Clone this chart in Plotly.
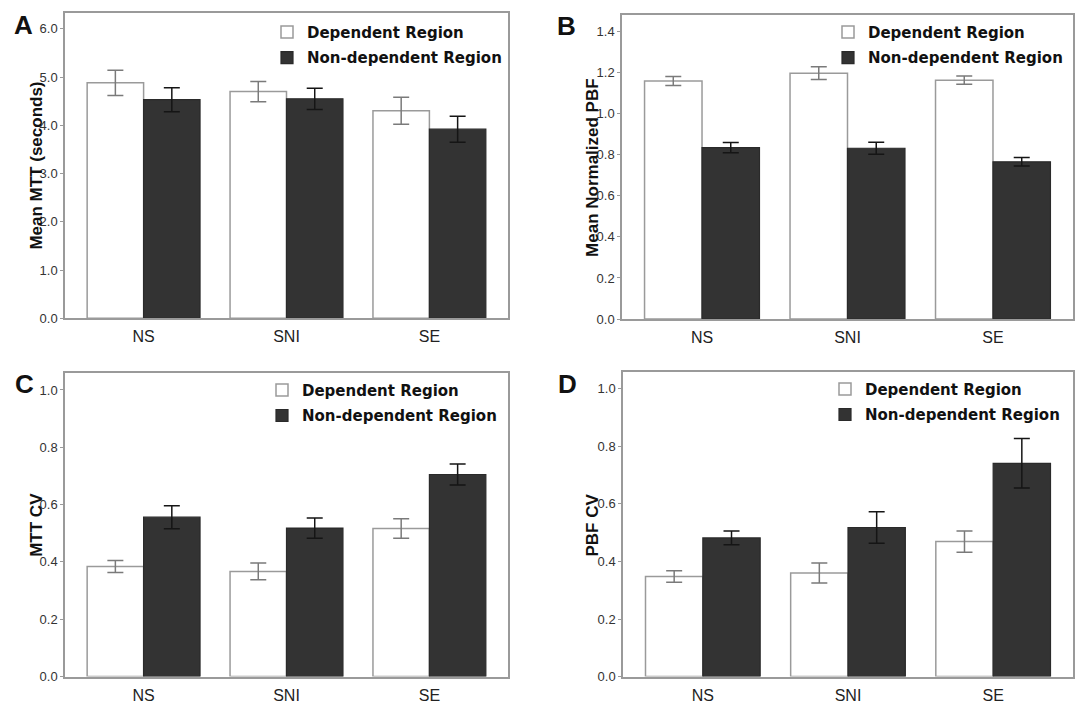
import plotly.graph_objects as go

# ---- data -------------------------------------------------------------
categories = ["NS", "SNI", "SE"]

mtt_dep = [4.88, 4.70, 4.30]
mtt_dep_err = [0.26, 0.21, 0.28]
mtt_non = [4.53, 4.55, 3.92]
mtt_non_err = [0.25, 0.22, 0.27]

pbf_dep = [1.158, 1.196, 1.162]
pbf_dep_err = [0.022, 0.031, 0.020]
pbf_non = [0.834, 0.831, 0.765]
pbf_non_err = [0.025, 0.029, 0.021]

mttcv_dep = [0.384, 0.367, 0.517]
mttcv_dep_err = [0.021, 0.029, 0.034]
mttcv_non = [0.556, 0.518, 0.705]
mttcv_non_err = [0.040, 0.035, 0.037]

pbfcv_dep = [0.348, 0.360, 0.469]
pbfcv_dep_err = [0.020, 0.035, 0.037]
pbfcv_non = [0.482, 0.518, 0.741]
pbfcv_non_err = [0.024, 0.055, 0.086]

series_names = ["Dependent Region", "Non-dependent Region"]

# ---- layout helpers ---------------------------------------------------
W, H = 1075, 708


def fx(p):
    return p / W


def fy(p):
    return 1 - p / H


panels = [
    dict(letter="A", ax="", dep=mtt_dep, dep_e=mtt_dep_err, non=mtt_non, non_e=mtt_non_err,
         xdom=(65, 508), ydom=(322, 13), yrange=6.33, dtick=1.0,
         title="Mean MTT (seconds)", title_x=37, letter_xy=(23, 25),
         legend="legend", leg_xy=(267, 16)),
    dict(letter="B", ax="2", dep=pbf_dep, dep_e=pbf_dep_err, non=pbf_non, non_e=pbf_non_err,
         xdom=(622, 1073), ydom=(322.7, 15), yrange=1.48, dtick=0.2,
         title="Mean Normalized PBF", title_x=593, letter_xy=(566, 26),
         legend="legend2", leg_xy=(828, 16)),
    dict(letter="C", ax="3", dep=mttcv_dep, dep_e=mttcv_dep_err, non=mttcv_non, non_e=mttcv_non_err,
         xdom=(65, 508), ydom=(684.3, 377.3), yrange=1.059, dtick=0.2,
         title="MTT CV", title_x=37, letter_xy=(24, 388),
         legend="legend3", leg_xy=(262, 378)),
    dict(letter="D", ax="4", dep=pbfcv_dep, dep_e=pbfcv_dep_err, non=pbfcv_non, non_e=pbfcv_non_err,
         xdom=(623, 1073), ydom=(684.3, 376.7), yrange=1.057, dtick=0.2,
         title="PBF CV", title_x=593, letter_xy=(567, 388),
         legend="legend4", leg_xy=(825, 377)),
]

fig = go.Figure()
layout = dict(
    width=W, height=H,
    margin=dict(l=0, r=0, t=0, b=0),
    paper_bgcolor="white", plot_bgcolor="white",
    barmode="group", bargap=0.21, bargroupgap=0,
    showlegend=True,
    font=dict(family="Liberation Sans, Arial, sans-serif", color="#222"),
)
annotations = []

for p in panels:
    xa, ya = "x" + p["ax"], "y" + p["ax"]
    fig.add_trace(go.Bar(
        x=categories, y=p["dep"], name=series_names[0],
        xaxis=xa, yaxis=ya, legend=p["legend"], legendgroup=p["letter"] + "dep",
        marker=dict(color="white", line=dict(color="#9a9a9a", width=1.5)),
        error_y=dict(type="data", array=p["dep_e"], color="#7a7a7a", thickness=1.5, width=8),
    ))
    fig.add_trace(go.Bar(
        x=categories, y=p["non"], name=series_names[1],
        xaxis=xa, yaxis=ya, legend=p["legend"], legendgroup=p["letter"] + "non",
        marker=dict(color="#333333", line=dict(color="#2a2a2a", width=1.2)),
        error_y=dict(type="data", array=p["non_e"], color="#151515", thickness=1.5, width=8),
    ))

    xkey = "xaxis" + p["ax"]
    ykey = "yaxis" + p["ax"]
    layout[xkey] = dict(
        domain=[fx(p["xdom"][0]), fx(p["xdom"][1])],
        anchor=ya, range=[-0.55, 2.55], fixedrange=True,
        showline=True, linecolor="#9a9a9a", linewidth=1.5, mirror=True,
        showgrid=False, zeroline=False, ticks="", ticklabelstandoff=3,
        tickfont=dict(size=16, color="#222"),
    )
    layout[ykey] = dict(
        domain=[fy(p["ydom"][0]), fy(p["ydom"][1])],
        anchor=xa, range=[0, p["yrange"]], dtick=p["dtick"], tick0=0,
        tickformat=".1f", fixedrange=True,
        showline=True, linecolor="#9a9a9a", linewidth=1.5, mirror=True,
        showgrid=False, zeroline=False,
        ticks="outside", ticklen=3, tickcolor="#9a9a9a", tickwidth=1,
        tickfont=dict(size=13, color="#333"),
    )
    layout[p["legend"]] = dict(
        x=fx(p["leg_xy"][0]), y=fy(p["leg_xy"][1]),
        xanchor="left", yanchor="top",
        bgcolor="rgba(0,0,0,0)", borderwidth=0,
        font=dict(family="DejaVu Sans, Verdana, sans-serif", size=15, color="#111",
                  weight="bold"),
        tracegroupgap=3, itemclick=False, itemdoubleclick=False,
    )

    ymid = (p["ydom"][0] + p["ydom"][1]) / 2
    annotations.append(dict(
        x=fx(p["title_x"]), y=fy(ymid), xref="paper", yref="paper",
        text="<b>%s</b>" % p["title"], textangle=-90, showarrow=False,
        xanchor="center", yanchor="middle",
        font=dict(size=17, color="#111", family="Liberation Sans, Arial, sans-serif"),
    ))
    annotations.append(dict(
        x=fx(p["letter_xy"][0]), y=fy(p["letter_xy"][1]), xref="paper", yref="paper",
        text="<b>%s</b>" % p["letter"], showarrow=False,
        xanchor="center", yanchor="middle",
        font=dict(size=26, color="#111", family="Liberation Sans, Arial, sans-serif"),
    ))

layout["annotations"] = annotations
fig.update_layout(**layout)
fig.write_html("out.html")
